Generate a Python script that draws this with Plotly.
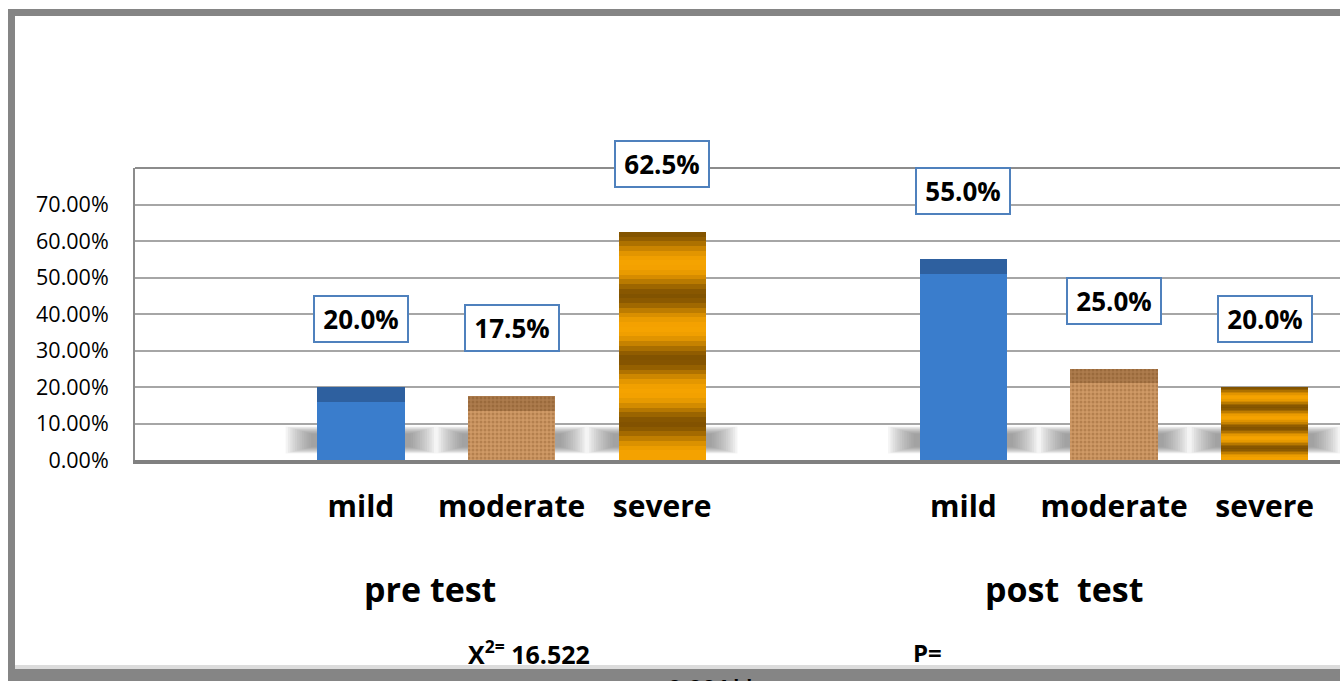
import numpy as np
import plotly.graph_objects as go

# ---- data -------------------------------------------------------------
groups = ["pre test", "post\u00a0 test"]
levels = ["mild", "moderate", "severe"]
pre_test = [0.200, 0.175, 0.625]
post_test = [0.550, 0.250, 0.200]
y_ticks = [0.0, 0.1, 0.2, 0.3, 0.4, 0.5, 0.6, 0.7]
chi_square_text = "X<sup>2=</sup> 16.522"
p_text = "P="
p_value_text = "0.001**"

# ---- layout geometry ----------------------------------------------------
W, H = 1340, 681
M_L, M_R, M_T, M_B = 135, 0, 168, 221
FONT = "Open Sans"
BAR_W = 0.58
CAP = 0.04  # height of the darker "top face" band on each bar


def px_x(px):
    return (px - M_L) / (W - M_L - M_R)


def px_y(py):
    return (H - M_B - py) / (H - M_T - M_B)


def slot(group_idx, level_idx):
    # one empty slot before each group of three bars
    return 1 + 4 * group_idx + level_idx


values_by_level = [[pre_test[i], post_test[i]] for i in range(len(levels))]
x_by_level = [[slot(0, i), slot(1, i)] for i in range(len(levels))]

fig = go.Figure()

# floor shadows under every bar (soft edge from stacked translucent boxes)
shapes = []
N_SHADOW = 12
for i in range(len(levels)):
    for xc in x_by_level[i]:
        for s in range(N_SHADOW):
            f = s / (N_SHADOW - 1)
            hw = 0.50 - 0.17 * f
            y0 = 0.018 + 0.018 * f
            y1 = 0.092 - 0.020 * f
            shapes.append(dict(type="rect", xref="x", yref="y", layer="below",
                               x0=xc - hw, x1=xc + hw, y0=y0, y1=y1,
                               fillcolor="rgba(110,110,110,0.075)",
                               line=dict(width=0)))

# mild: blue bars
fig.add_trace(go.Bar(x=x_by_level[0], y=values_by_level[0], width=BAR_W,
                     marker=dict(color="#3a7dcc", line=dict(width=0)),
                     name=levels[0]))
# moderate: cork-like texture
fig.add_trace(go.Bar(x=x_by_level[1], y=values_by_level[1], width=BAR_W,
                     marker=dict(color="#cf9a66", line=dict(width=0),
                                 pattern=dict(shape=".", fgcolor="#9a6535",
                                              size=4, solidity=0.45)),
                     name=levels[1]))
# severe: golden bars with horizontal banding
fig.add_trace(go.Bar(x=x_by_level[2], y=values_by_level[2], width=BAR_W,
                     marker=dict(color="#f5a300", line=dict(width=0)),
                     name=levels[2]))

N_BANDS = 48
sev = values_by_level[2]
for k in range(N_BANDS):
    d = 1 - (k + 0.5) / N_BANDS
    a = 0.80 * (0.5 + 0.5 * np.cos(2 * np.pi * d / 0.28)) ** 1.3
    fig.add_trace(go.Bar(x=x_by_level[2], y=[v / N_BANDS for v in sev],
                         base=[v * k / N_BANDS for v in sev], width=BAR_W,
                         marker=dict(color=f"rgba(100,62,0,{a:.3f})",
                                     line=dict(width=0)),
                         showlegend=False, hoverinfo="skip"))

# darker top faces for the blue and cork bars
fig.add_trace(go.Bar(x=x_by_level[0], y=[CAP] * 2,
                     base=[v - CAP for v in values_by_level[0]], width=BAR_W,
                     marker=dict(color="#2e609f", line=dict(width=0)),
                     showlegend=False, hoverinfo="skip"))
fig.add_trace(go.Bar(x=x_by_level[1], y=[CAP] * 2,
                     base=[v - CAP for v in values_by_level[1]], width=BAR_W,
                     marker=dict(color="rgba(95,55,20,0.30)", line=dict(width=0)),
                     showlegend=False, hoverinfo="skip"))

# value labels in outlined boxes
annotations = []
for i in range(len(levels)):
    for xc, v in zip(x_by_level[i], values_by_level[i]):
        annotations.append(dict(
            x=xc, y=v, xref="x", yref="y", text=f"{v * 100:.1f}%",
            showarrow=False, yanchor="middle", yshift=68,
            font=dict(family=FONT, size=26, color="black", weight="bold"),
            bgcolor="white", bordercolor="#4f81bd", borderwidth=2,
            borderpad=4, width=84, height=36))

# group titles
for g, cx in zip(groups, [430, 1064]):
    annotations.append(dict(x=px_x(cx), y=px_y(589), xref="paper", yref="paper",
                            text=g, showarrow=False, xanchor="center",
                            yanchor="middle",
                            font=dict(family=FONT, size=34, color="black",
                                      weight="bold")))

# test statistics
annotations.append(dict(x=px_x(466), y=px_y(652), xref="paper", yref="paper",
                        text=chi_square_text, showarrow=False, xanchor="left",
                        yanchor="middle",
                        font=dict(family=FONT, size=25, color="black",
                                  weight="bold")))
annotations.append(dict(x=px_x(911), y=px_y(652), xref="paper", yref="paper",
                        text=p_text, showarrow=False, xanchor="left",
                        yanchor="middle",
                        font=dict(family=FONT, size=24, color="black",
                                  weight="bold")))

# outer frame of the chart area
frame_col = "#858585"
shapes += [
    dict(type="rect", xref="paper", yref="paper", layer="above",
         x0=px_x(8), x1=px_x(1345), y0=px_y(9), y1=px_y(16),
         fillcolor=frame_col, line=dict(width=0)),
    dict(type="rect", xref="paper", yref="paper", layer="above",
         x0=px_x(8), x1=px_x(15), y0=px_y(9), y1=px_y(690),
         fillcolor=frame_col, line=dict(width=0)),
    dict(type="rect", xref="paper", yref="paper", layer="above",
         x0=px_x(15), x1=px_x(1345), y0=px_y(665), y1=px_y(669),
         fillcolor="#dcdcdc", line=dict(width=0)),
    dict(type="rect", xref="paper", yref="paper", layer="above",
         x0=px_x(8), x1=px_x(1345), y0=px_y(669), y1=px_y(690),
         fillcolor=frame_col, line=dict(width=0)),
    # top edge of the plot area
    dict(type="line", xref="paper", yref="paper", layer="above",
         x0=0, x1=1, y0=1, y1=1, line=dict(color="#8c8c8c", width=2)),
]

# p-value sits on the lower frame edge
annotations.append(dict(x=px_x(712), y=px_y(687), xref="paper", yref="paper",
                        text=p_value_text, showarrow=False, xanchor="center",
                        yanchor="middle",
                        font=dict(family=FONT, size=24, color="black",
                                  weight="bold")))

fig.update_layout(
    width=W, height=H,
    margin=dict(l=M_L, r=M_R, t=M_T, b=M_B),
    paper_bgcolor="white", plot_bgcolor="white",
    barmode="overlay", bargap=0, showlegend=False,
    shapes=shapes, annotations=annotations,
    hovermode=False,
    xaxis=dict(range=[-0.5, 7.5],
               tickvals=[s for xs in x_by_level for s in xs],
               ticktext=[levels[i] for i in range(len(levels)) for _ in range(2)],
               ticks="", ticklabelstandoff=17,
               tickfont=dict(family=FONT, size=30, color="black", weight="bold"),
               showgrid=False, zeroline=False,
               showline=True, linecolor="#808080", linewidth=4),
    yaxis=dict(range=[0, 0.8], tickvals=y_ticks, tickformat=".2%",
               ticks="", ticklabelstandoff=20,
               tickfont=dict(family=FONT, size=21.5, color="black"),
               showgrid=True, gridcolor="#a6a6a6", gridwidth=2,
               zeroline=False,
               showline=True, linecolor="#8c8c8c", linewidth=2),
)

fig.write_html("out.html")
